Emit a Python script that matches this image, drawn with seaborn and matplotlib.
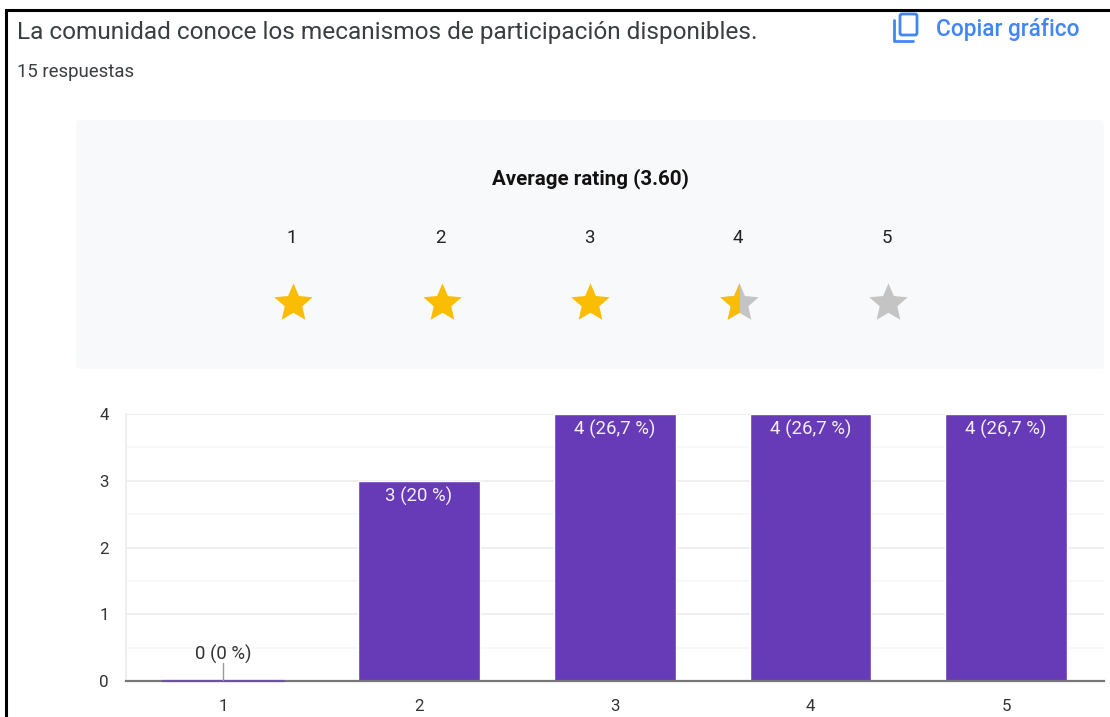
import numpy as np
import pandas as pd
import seaborn as sns
import matplotlib
matplotlib.use('Agg')
import matplotlib.pyplot as plt
from matplotlib.patches import FancyBboxPatch, Rectangle
from matplotlib.path import Path

# Data
ratings = [1, 2, 3, 4, 5]
counts = [0, 3, 4, 4, 4]
percent_labels = ['0 %', '20 %', '26,7 %', '26,7 %', '26,7 %']
star_fill = [1, 1, 1, 0.5, 0]

title = 'La comunidad conoce los mecanismos de participación disponibles.'
subtitle = '15 respuestas'
copy_label = 'Copiar gráfico'
rating_title = 'Average rating (3.60)'

W, H = 1110, 717
PURPLE = '#673ab7'
GOLD = '#fbbc04'
GRAY = '#c4c4c4'
BLUE = '#4285f4'
TEXT = '#3a3d42'

sns.set_theme(style='white')
plt.rcParams['font.family'] = ['Roboto', 'DejaVu Sans']


def axes_px(fig, left, top, right, bottom, **kw):
    return fig.add_axes([left / W, 1 - bottom / H, (right - left) / W, (bottom - top) / H], **kw)


fig = plt.figure(figsize=(W / 100, H / 100), dpi=100, facecolor='white')

# Page chrome, in pixel coordinates
page = axes_px(fig, 0, 0, W, H, zorder=0)
page.set_xlim(0, W)
page.set_ylim(H, 0)
page.axis('off')
page.plot([6, 6, W], [H, 9.5, 9.5], color='black', lw=2.2, solid_joinstyle='miter')
page.add_patch(FancyBboxPatch((79, 123), 1022, 243, boxstyle='round,pad=3,rounding_size=5',
                              fc='#f8f9fa', ec='none'))
page.text(17, 33, title, fontsize=17.6, color=TEXT, va='center', ha='left')
page.text(17, 72, subtitle, fontsize=13.4, color=TEXT, va='center', ha='left')
page.text(936, 29, copy_label, fontsize=16.3, color=BLUE, va='center', ha='left', fontweight='medium')
page.text(590, 179, rating_title, fontsize=14.8, color='#111111', va='center', ha='center', fontweight='bold')

# Copy icon
page.add_patch(FancyBboxPatch((900, 14), 17, 21, boxstyle='round,pad=0,rounding_size=2',
                              fc='none', ec=BLUE, lw=2))
page.plot([893.5, 893.5, 913], [20, 41, 41], color=BLUE, lw=2)

# Stars
star_ax = axes_px(fig, 144, 205, 1036.5, 335, zorder=1)
star_ax.patch.set_alpha(0)
star_ax.set_xlim(0, 6)
star_ax.set_ylim(335, 205)
star_ax.axis('off')
star_df = pd.DataFrame({'rating': ratings, 'fill': star_fill, 'y': 303})
STAR_SIZE = 840
STAR = Path.unit_regular_star(5, innerCircle=0.46)
sns.scatterplot(data=star_df[star_df['fill'] < 1], x='rating', y='y', marker=STAR, s=STAR_SIZE,
                color=GRAY, linewidth=0, ax=star_ax, legend=False)
for r, f in zip(ratings, star_fill):
    star_ax.text(r - 0.005, 238, str(r), fontsize=13.4, color='#222222', ha='center', va='center')
    if f <= 0:
        continue
    pts = star_ax.scatter([r], [303], marker=STAR, s=STAR_SIZE, color=GOLD, linewidth=0, zorder=3)
    if f < 1:
        pts.set_clip_path(Rectangle((r - 0.5, 205), f, 130, transform=star_ax.transData))

# Bars
ax = axes_px(fig, 125.5, 414, 1104, 681, zorder=2)
df = pd.DataFrame({'rating': ratings, 'count': counts})
sns.barplot(data=df, x='rating', y='count', color=PURPLE, saturation=1, width=0.622, ax=ax, zorder=3)
ax.set_xlim(-0.5, 4.5)
ax.set_ylim(0, 4)
ax.set_xlabel('')
ax.set_ylabel('')
ax.set_yticks([0, 1, 2, 3, 4])
ax.set_yticks([0.5, 1.5, 2.5, 3.5], minor=True)
ax.grid(True, which='major', axis='y', color='#efefef', lw=1.4, zorder=0)
ax.grid(True, which='minor', axis='y', color='#f7f7f7', lw=1.2, zorder=0)
ax.tick_params(axis='both', which='major', length=0, labelsize=12.2, labelcolor='#333333')
ax.tick_params(axis='y', which='major', pad=12)
ax.tick_params(axis='x', which='major', pad=13)
ax.tick_params(axis='y', which='minor', length=0)
for s in ['top', 'right']:
    ax.spines[s].set_visible(False)
ax.spines['left'].set_color('#efefef')
ax.spines['left'].set_linewidth(1.4)
ax.spines['bottom'].set_color('#777777')
ax.spines['bottom'].set_linewidth(1.6)
ax.spines['bottom'].set_zorder(4)

for i, (c, p) in enumerate(zip(counts, percent_labels)):
    label = f'{c} ({p})'
    if c == 0:
        ax.plot([i - 0.31, i + 0.31], [0, 0], color=PURPLE, lw=1.6, alpha=0.6, zorder=5, clip_on=False)
        ax.plot([i, i], [0, 0.27], color='#999999', lw=1, zorder=5)
        ax.text(i, 0.4, label, fontsize=13.4, color='#333333', ha='center', va='center')
    else:
        ax.annotate(label, (i, c), xytext=(0, -11), textcoords='offset points', fontsize=13.4,
                    color='#f3effa', ha='center', va='center', zorder=6)

fig.savefig('out.png', dpi=100)
